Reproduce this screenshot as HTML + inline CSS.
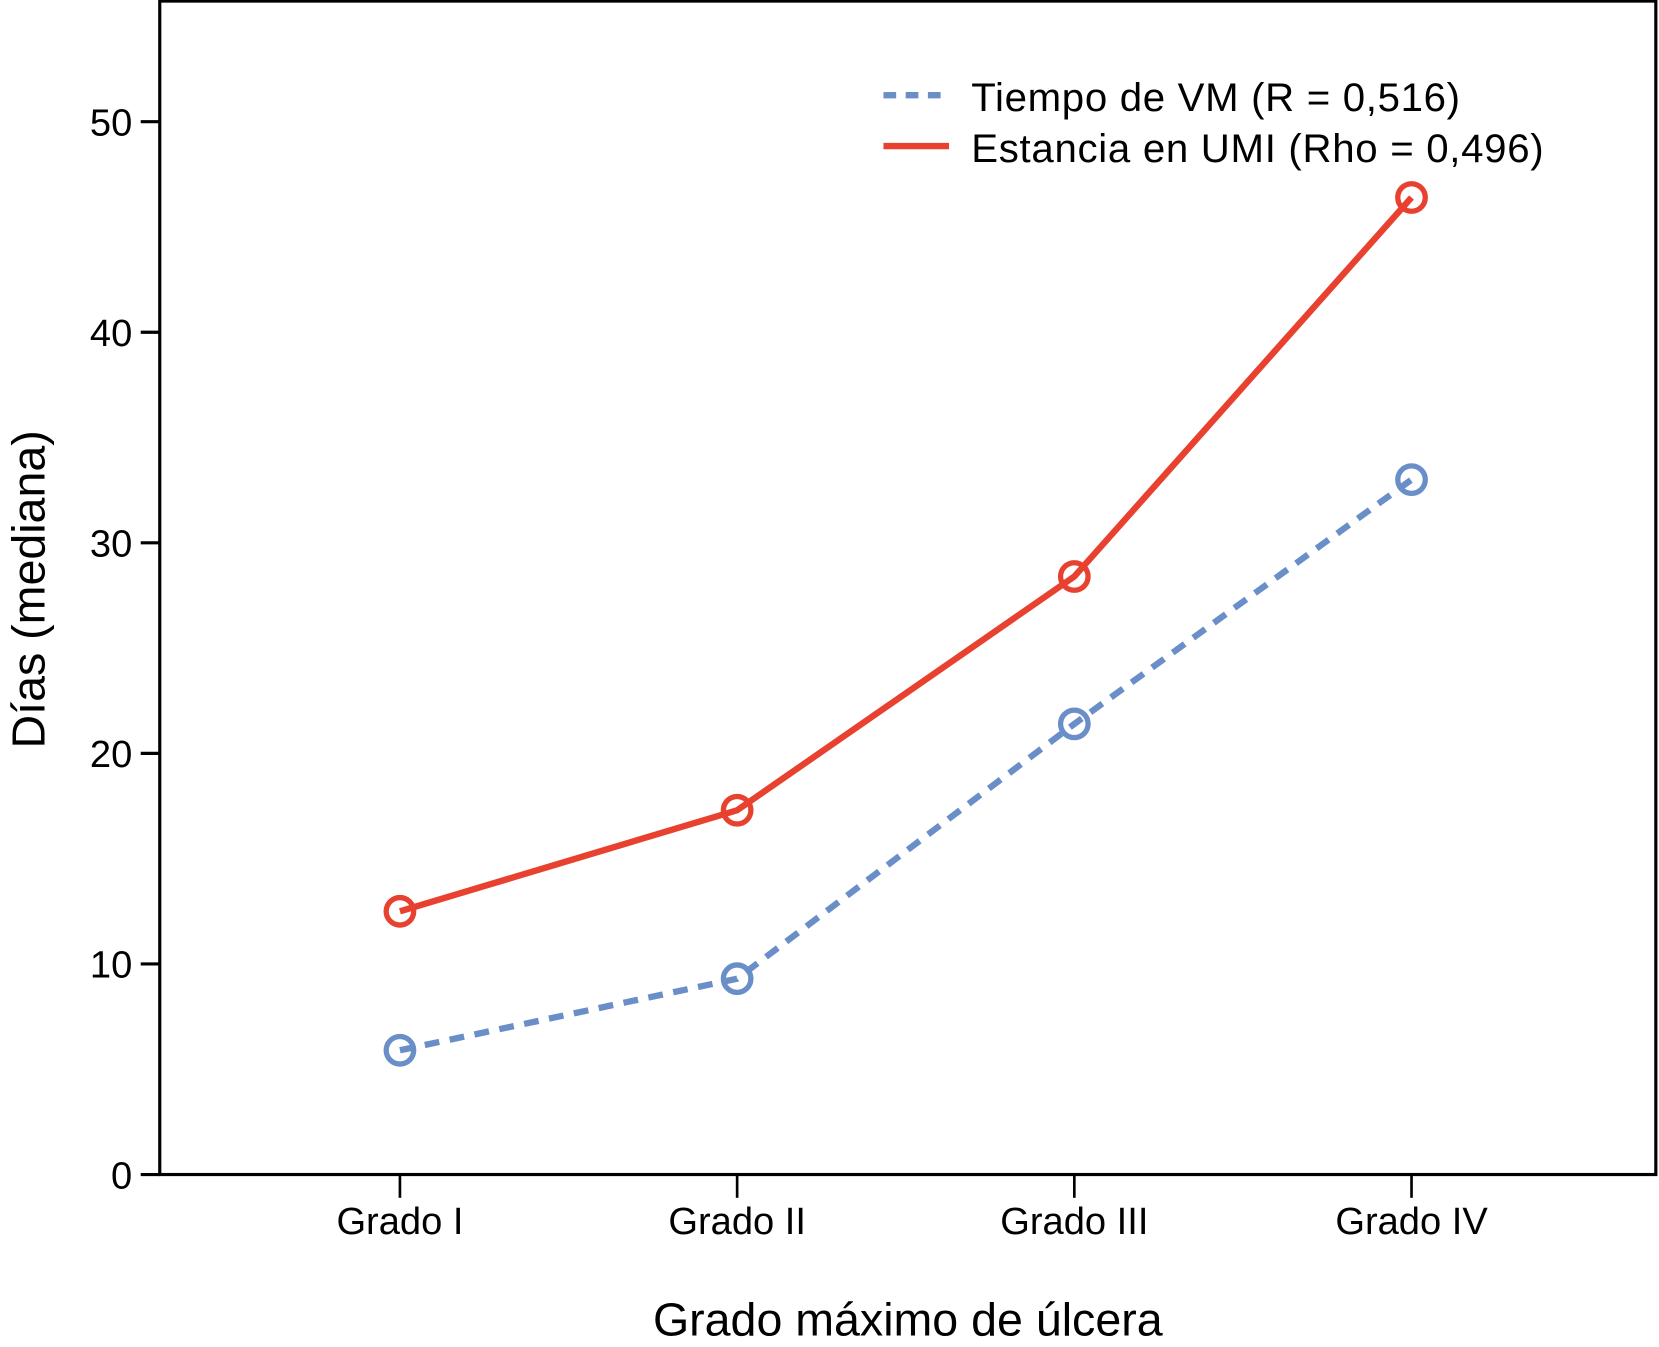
<!DOCTYPE html>
<html><head><meta charset="utf-8"><style>
html,body{margin:0;padding:0;background:#fff;}
svg{display:block;font-family:"Liberation Sans",Arial,sans-serif;}
</style></head><body>
<svg id="chart" width="1659" height="1347" viewBox="0 0 1568 1273" preserveAspectRatio="none" xmlns="http://www.w3.org/2000/svg">
<rect x="151" y="1" width="1414" height="1109" fill="none" stroke="#000" stroke-width="3"/>
<g id="axes"></g>
<g id="series"></g>
<g>
<line x1="835" y1="90" x2="897" y2="90" stroke="#6a8fc8" stroke-width="6" stroke-dasharray="12,9"/>
<text x="918" y="105" font-size="38" textLength="462">Tiempo de VM (R = 0,516)</text>
<line x1="835" y1="138" x2="897" y2="138" stroke="#e8412f" stroke-width="6"/>
<text x="918" y="153" font-size="38" textLength="541">Estancia en UMI (Rho = 0,496)</text>
</g>
<text x="858" y="1262" font-size="44" text-anchor="middle">Grado máximo de úlcera</text>
<text transform="translate(42,557) rotate(-90)" font-size="44" text-anchor="middle">Días (mediana)</text>
</svg>
<script>
const categories = ["Grado I","Grado II","Grado III","Grado IV"];
const vmValues = [5.9, 9.3, 21.4, 33.0];
const umiValues = [12.5, 17.3, 28.4, 46.4];
const yTicks = [0,10,20,30,40,50];

const NS="http://www.w3.org/2000/svg";
const xPos = i => 378 + i*318.7;
const yPos = v => 1110 - v*19.9;
const axes=document.getElementById('axes'), series=document.getElementById('series');
function mk(tag, attrs, parent){const e=document.createElementNS(NS,tag);for(const k in attrs)e.setAttribute(k,attrs[k]);parent.appendChild(e);return e;}

yTicks.forEach(t=>{
  const l=mk('line',{x1:133,x2:151,y1:yPos(t),y2:yPos(t),stroke:'#000','stroke-width':3},axes);
  
  
  const tx=mk('text',{x:125,y:yPos(t)+13,'font-size':36,'text-anchor':'end'},axes);
  tx.textContent=t;
  
  
});
categories.forEach((c,i)=>{
  const l=mk('line',{x1:xPos(i),x2:xPos(i),y1:1110,y2:1132,stroke:'#000','stroke-width':2.5},axes);
  
  
  const tx=mk('text',{x:xPos(i),y:1166,'font-size':36,'text-anchor':'middle'},axes);
  tx.textContent=c;
  
  
});
function draw(vals,color,dash,name){
  const pts=vals.map((v,i)=>xPos(i)+','+yPos(v)).join(' ');
  const pl=mk('polyline',{points:pts,fill:'none',stroke:color,'stroke-width':6,'stroke-dasharray':dash||'none'},series);
  
  
  vals.forEach((v,i)=>{
    const c=mk('circle',{cx:xPos(i),cy:yPos(v),r:13,fill:'none',stroke:color,'stroke-width':5},series);
    
    
  });
}
draw(vmValues,'#6a8fc8','14,10','vm');
draw(umiValues,'#e8412f',null,'umi');
</script>
</body></html>
